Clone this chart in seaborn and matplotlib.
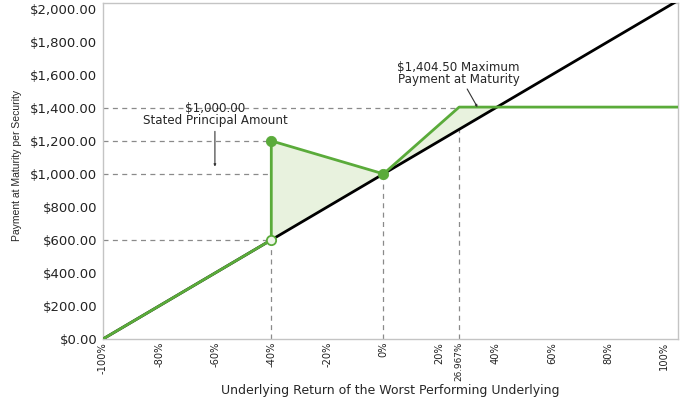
import matplotlib
matplotlib.use("Agg")
import matplotlib.pyplot as plt
import seaborn as sns
import pandas as pd
import numpy as np

# ---- data ----
underlying_x = [-100, 105]
underlying_y = [0, 2050]
security_x = [-100, -40, -40, 0, 26.967, 105]
security_y = [0, 600, 1200, 1000, 1404.5, 1404.5]
fill_x = [-40, 0, 26.967, 40.45]
fill_top = [1200, 1000, 1404.5, 1404.5]
fill_bottom = [600, 1000, 1269.67, 1404.5]
filled_pts_x = [-40, 0]
filled_pts_y = [1200, 1000]
open_pt_x = [-40]
open_pt_y = [600]
xticks = [-100, -80, -60, -40, -20, 0, 20, 26.967, 40, 60, 80, 100]
xtick_labels = ["-100%", "-80%", "-60%", "-40%", "-20%", "0%", "20%", "26.967%",
                "40%", "60%", "80%", "100%"]
yticks = [0, 200, 400, 600, 800, 1000, 1200, 1400, 1600, 1800, 2000]
ytick_labels = ["$0.00", "$200.00", "$400.00", "$600.00", "$800.00", "$1,000.00",
                "$1,200.00", "$1,400.00", "$1,600.00", "$1,800.00", "$2,000.00"]
# reference dashed guides: (level, x_end) horizontals and (x, y_top) verticals
h_guides = [(1400, 26.967), (1200, -40), (1000, 0), (600, -40)]
v_guides = [(-40, 1200), (0, 1000), (26.967, 1404.5)]

sns.set_style("white")
plt.rcParams["font.family"] = ["DejaVu Sans"]

GREEN = "#5aab3a"
FILL = "#e8f2de"
GRID = "#8a8a8a"

fig = plt.figure(figsize=(6.83, 3.99), dpi=100)
ax = fig.add_axes([0.1508, 0.1504, 0.9927 - 0.1508, 0.9925 - 0.1504])

ax.set_xlim(-100, 105)
ax.set_ylim(0, 2035)

for lvl, xe in h_guides:
    ax.plot([-100, xe], [lvl, lvl], color=GRID, lw=0.9, ls=(0, (4, 3.5)), zorder=1)
for xv, yt in v_guides:
    ax.plot([xv, xv], [0, yt], color=GRID, lw=0.9, ls=(0, (4, 3.5)), zorder=1)

ax.fill_between(fill_x, fill_bottom, fill_top, color=FILL, lw=0, zorder=1.5)

df_u = pd.DataFrame({"x": underlying_x, "y": underlying_y})
sns.lineplot(data=df_u, x="x", y="y", color="black", lw=2, ax=ax, zorder=3)

df_s = pd.DataFrame({"x": security_x, "y": security_y})
sns.lineplot(data=df_s, x="x", y="y", sort=False, estimator=None, color=GREEN, lw=2,
             ax=ax, zorder=4)

sns.scatterplot(x=filled_pts_x, y=filled_pts_y, color=GREEN, s=55, edgecolor=GREEN,
                ax=ax, zorder=5)
ax.scatter(open_pt_x, open_pt_y, s=45, facecolor="#eef5e8", edgecolor=GREEN,
           linewidth=1.3, zorder=5)

ax.set_xticks(xticks)
ax.set_xticklabels(xtick_labels, rotation=90, fontsize=7.1)
for lab in ax.get_xticklabels():
    if lab.get_text() == "26.967%":
        lab.set_fontsize(6.4)
ax.set_yticks(yticks)
ax.set_yticklabels(ytick_labels, fontsize=9.5)
ax.tick_params(axis="x", length=0, pad=2, colors="#222222")
ax.tick_params(axis="y", length=0, pad=4, colors="#222222")

ax.set_xlabel("Underlying Return of the Worst Performing Underlying", fontsize=9,
              va="center")
ax.xaxis.set_label_coords(0.5, -0.152)
ax.set_ylabel("Payment at Maturity per Security", fontsize=7.5,
              family=["Liberation Sans"], va="center")
ax.yaxis.set_label_coords(-0.1496, 0.518)

for s in ax.spines.values():
    s.set_color("#c4c4c4")
    s.set_linewidth(1)

ax.annotate("$1,000.00\nStated Principal Amount", xy=(-60.1, 1044), xytext=(-60.1, 1360),
            ha="center", va="center", fontsize=8.6, linespacing=0.85,
            arrowprops=dict(arrowstyle="-|>", color="#333333", lw=0.8,
                            mutation_scale=3, shrinkA=1, shrinkB=0),
            zorder=6)
ax.annotate("$1,404.50 Maximum\nPayment at Maturity", xy=(33.5, 1404), xytext=(26.7, 1608),
            ha="center", va="center", fontsize=8.6, linespacing=0.85,
            arrowprops=dict(arrowstyle="-|>", color="#333333", lw=0.8,
                            mutation_scale=3, shrinkA=0, shrinkB=0),
            zorder=6)

fig.savefig("out.png", dpi=100)
